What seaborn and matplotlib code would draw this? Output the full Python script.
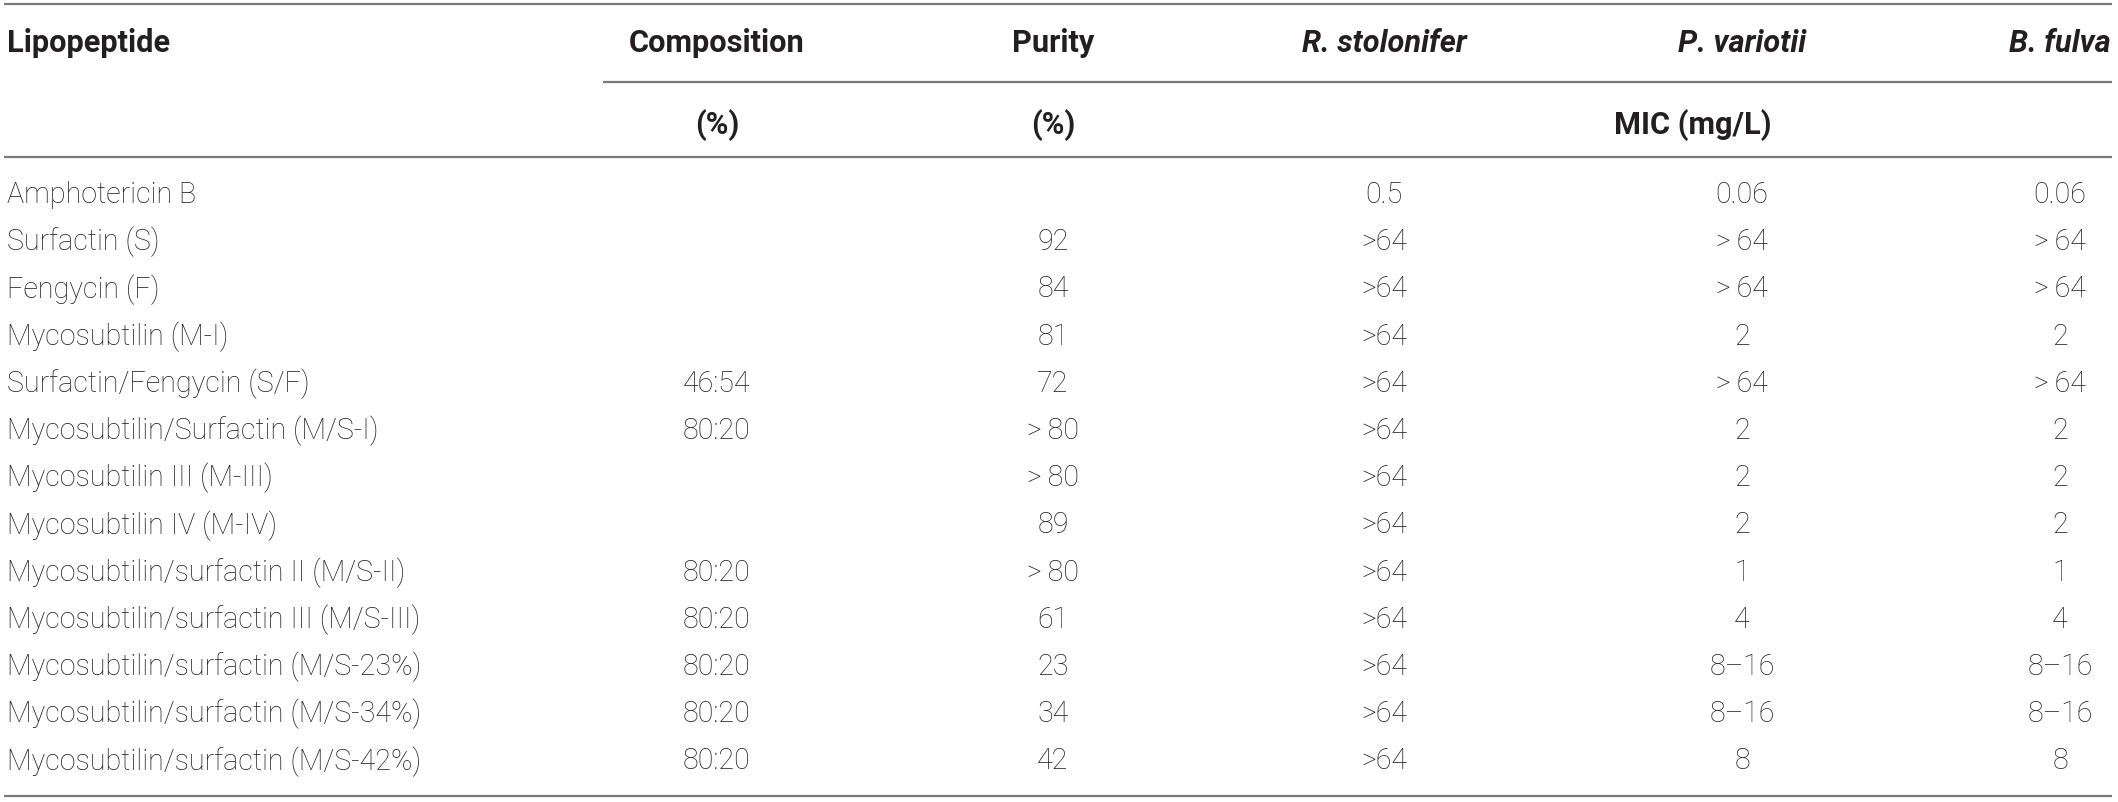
'''
Table of lipopeptide composition, purity and MIC against three fungi,
redrawn as a figure with seaborn / matplotlib
'''
import matplotlib
matplotlib.use('Agg')
import matplotlib.pyplot as plt
from matplotlib import font_manager
import seaborn as sns

'''
table data
'''
lipopeptides = [
    'Amphotericin B',
    'Surfactin (S)',
    'Fengycin (F)',
    'Mycosubtilin (M-I)',
    'Surfactin/Fengycin (S/F)',
    'Mycosubtilin/Surfactin (M/S-I)',
    'Mycosubtilin III (M-III)',
    'Mycosubtilin IV (M-IV)',
    'Mycosubtilin/surfactin II (M/S-II)',
    'Mycosubtilin/surfactin III (M/S-III)',
    'Mycosubtilin/surfactin (M/S-23%)',
    'Mycosubtilin/surfactin (M/S-34%)',
    'Mycosubtilin/surfactin (M/S-42%)',
]
composition = ['', '', '', '', '46:54', '80:20', '', '', '80:20', '80:20', '80:20', '80:20', '80:20']
purity = ['', '92', '84', '81', '72', '>\u200980', '>\u200980', '89', '>\u200980', '61', '23', '34', '42']
mic_r_stolonifer = ['0.5'] + ['>64'] * 12
mic_p_variotii = ['0.06', '>\u200964', '>\u200964', '2', '>\u200964', '2', '2', '2', '1', '4', '8–16', '8–16', '8']
mic_b_fulva = ['0.06', '>\u200964', '>\u200964', '2', '>\u200964', '2', '2', '2', '1', '4', '8–16', '8–16', '8']

headers = ['Lipopeptide', 'Composition', 'Purity', 'R. stolonifer', 'P. variotii', 'B. fulva']
sub_headers = ['', '(%)', '(%)', '', 'MIC (mg/L)', '']

'''
layout in pixels of the 2118x803 output
'''
W, H = 2118, 803
col_x = [7, 717, 1053, 1384, 1742, 2060]
col_ha = ['left', 'center', 'center', 'center', 'center', 'center']
mic_x = 1693
header_y = 43
sub_y = 125
row0_y = 195
row_step = 47.2
line_color = '#7a7a7a'
text_color = '#231f20'

sns.set_theme(style='white')
plt.rcParams['font.family'] = ['Roboto', 'DejaVu Sans']

installed = {f.name for f in font_manager.fontManager.ttflist}
if 'Liberation Sans Narrow' in installed:
    head_font = ['Liberation Sans Narrow', 'DejaVu Sans']
else:
    head_font = ['Roboto', 'DejaVu Sans']
body_font = ['Roboto', 'DejaVu Sans']

fig = plt.figure(figsize=(W / 100, H / 100), dpi=100)
ax = fig.add_axes([0, 0, 1, 1])
ax.set_xlim(0, W)
ax.set_ylim(H, 0)
ax.axis('off')
renderer = fig.canvas.get_renderer()


def fit_size(label, target_px, **kw):
    '''
    font size that gives the label the width it has in the reference
    '''
    t = ax.text(0, 0, label, fontsize=20, **kw)
    w = t.get_window_extent(renderer).width
    t.remove()
    return 20 * target_px / w


body_size = fit_size(lipopeptides[-1], 414, fontweight='light', family=body_font)
head_size = fit_size(headers[0], 163, fontweight='bold', family=head_font)

'''
rules of the table
'''
ax.hlines([5, 158, 797], 4, 2112, color=line_color, lw=1.6)
ax.hlines(83, 603, 2112, color=line_color, lw=1.6)

'''
header rows
'''
for i, name in enumerate(headers):
    style = 'italic' if i >= 3 else 'normal'
    ax.text(col_x[i], header_y, name, ha=col_ha[i], va='center', fontsize=head_size,
            fontweight='bold', fontstyle=style, family=head_font, color=text_color)
for i, name in enumerate(sub_headers):
    if not name:
        continue
    x = mic_x if name.startswith('MIC') else col_x[i]
    ax.text(x, sub_y, name, ha='center', va='center', fontsize=head_size,
            fontweight='bold', family=head_font, color=text_color)

'''
body rows
'''
columns = [lipopeptides, composition, purity, mic_r_stolonifer, mic_p_variotii, mic_b_fulva]
for j, values in enumerate(columns):
    for i, val in enumerate(values):
        if not val:
            continue
        ax.text(col_x[j], row0_y + i * row_step, val, ha=col_ha[j], va='center',
                fontsize=body_size, fontweight='light', family=body_font, color=text_color)

fig.savefig('out.png', dpi=100, facecolor='white')
